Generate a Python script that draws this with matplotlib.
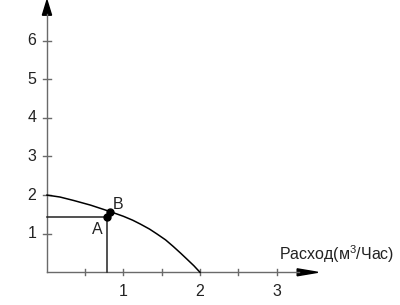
import matplotlib
matplotlib.use("Agg")
import matplotlib.pyplot as plt

# Data
curve_x = [0.0, 0.17, 0.35, 0.57, 0.83, 1.0, 1.12, 1.22, 1.34, 1.44, 1.55, 1.65, 1.75, 1.83, 1.92, 2.0]
curve_y = [2.0, 1.95, 1.86, 1.74, 1.57, 1.45, 1.35, 1.25, 1.12, 0.99, 0.84, 0.67, 0.49, 0.34, 0.17, 0.0]
point_a = (0.79, 1.42)
point_b = (0.82, 1.55)
x_ticks = [0.5, 1, 1.5, 2, 2.5, 3]
x_labels = ['1', '2', '3']
x_label_pos = [1, 2, 3]
y_ticks = [1, 2, 3, 4, 5, 6]
x_title = 'Расход(м$^3$/Час)'

plt.rcParams['font.family'] = ['Liberation Sans', 'DejaVu Sans']
plt.rcParams['mathtext.fontset'] = 'custom'
plt.rcParams['mathtext.rm'] = 'Liberation Sans'

fig = plt.figure(figsize=(4, 3.05), dpi=100)
ax = fig.add_axes([0, 0, 1, 1])
ax.set_xlim(-0.614, 4.614)
ax.set_ylim(-0.847, 7.054)
ax.axis('off')

axis_col = '#6a6a6a'
txt_col = '#222222'
fs = 11.5

# axes with arrows
ax.plot([0, 3.3], [0, 0], color=axis_col, lw=1.0)
ax.plot([0, 0], [0, 6.7], color=axis_col, lw=1.0)
ax.fill([3.27, 3.54, 3.27], [-0.09, 0, 0.09], color='black')
ax.fill([-0.06, 0, 0.06], [6.66, 7.05, 6.66], color='black')

# ticks
for t in x_ticks:
    ax.plot([t, t], [-0.08, 0.08], color=axis_col, lw=1.0)
for t in y_ticks:
    ax.plot([-0.05, 0.05], [t, t], color=axis_col, lw=1.0)

for t, s in zip(x_label_pos, x_labels):
    ax.text(t, -0.3, s, ha='center', va='top', fontsize=fs, color=txt_col)
for t in y_ticks:
    ax.text(-0.14, t, str(t), ha='right', va='center', fontsize=fs, color=txt_col)

ax.text(3.79, 0.2, x_title, ha='center', va='bottom', fontsize=fs, color=txt_col)

# curve
ax.plot(curve_x, curve_y, color='black', lw=1.1)

# guide lines to point A
ax.plot([0, point_a[0]], [point_a[1], point_a[1]], color='#222222', lw=1.1)
ax.plot([point_a[0], point_a[0]], [0, point_a[1]], color='#222222', lw=1.1)

ax.plot([point_a[0], point_b[0]], [point_a[1], point_b[1]], color='black', lw=3)
ax.plot(*point_a, 'o', color='black', ms=5)
ax.plot(*point_b, 'o', color='black', ms=5)

ax.text(0.93, 1.76, 'B', ha='center', va='center', fontsize=fs, color=txt_col)
ax.text(0.66, 1.11, 'A', ha='center', va='center', fontsize=fs, color=txt_col)

fig.savefig('out.png', dpi=100)
